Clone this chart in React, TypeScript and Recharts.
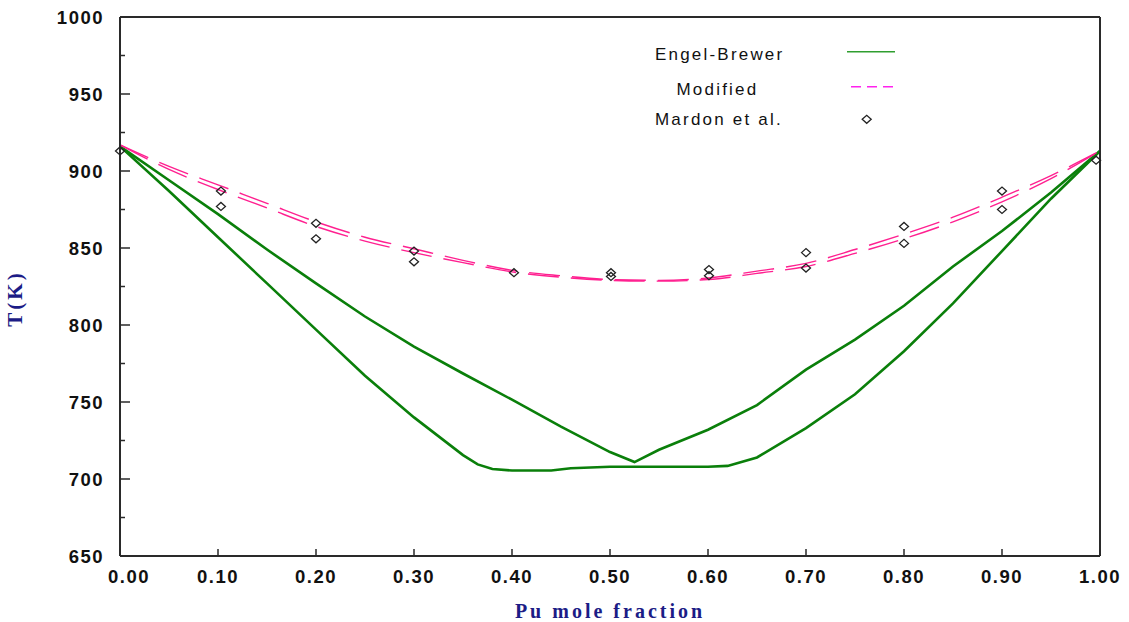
import React from 'react'
import { ComposedChart, Line, Scatter, XAxis, YAxis, ReferenceLine, Legend } from 'recharts'

// ── Axis ticks ────────────────────────────────────────
const xTicks = [0, 0.1, 0.2, 0.3, 0.4, 0.5, 0.6, 0.7, 0.8, 0.9, 1.0]
const yTicks = [650, 675, 700, 725, 750, 775, 800, 825, 850, 875, 900, 925, 950, 975, 1000]

// ── Engel-Brewer liquidus / solidus ───────────────────
const ebUpperX = [0, 0.05, 0.1, 0.15, 0.2, 0.25, 0.3, 0.35, 0.4, 0.45, 0.5, 0.525, 0.55, 0.6, 0.65, 0.7, 0.75, 0.8, 0.85, 0.9, 0.95, 1.0]
const ebUpperT = [916, 894, 872, 849, 827, 805.5, 786, 768.5, 751.5, 734, 717.5, 711, 719, 732, 748, 771, 790.5, 812.5, 838, 861, 886, 913]

const ebLowerX = [0, 0.05, 0.1, 0.15, 0.2, 0.25, 0.3, 0.35, 0.365, 0.38, 0.4, 0.44, 0.46, 0.5, 0.55, 0.6, 0.62, 0.65, 0.7, 0.75, 0.8, 0.85, 0.9, 0.95, 1.0]
const ebLowerT = [916, 887, 857, 827, 797, 767, 740, 715.5, 709.5, 706.5, 705.5, 705.5, 707, 708, 708, 708, 708.5, 714, 733, 755, 783, 814, 848, 882, 913]

// ── Modified model (two close curves) ─────────────────
const modX = [0, 0.05, 0.1, 0.15, 0.2, 0.25, 0.3, 0.35, 0.4, 0.45, 0.5, 0.55, 0.6, 0.65, 0.7, 0.75, 0.8, 0.85, 0.9, 0.95, 1.0]
const modUpperT = [917, 903, 891, 879, 867, 857, 849.5, 842, 835.5, 832, 829.5, 829, 830.5, 835, 840, 849, 859, 870, 883, 897, 913]
const modLowerT = [917, 901, 888, 876, 864, 854.5, 847, 840.5, 834.5, 831, 829, 828.5, 829.5, 833.5, 838, 846.5, 856, 867, 880, 895, 913]

// ── Mardon et al. measurements ────────────────────────
const mardonX = [0, 0.103, 0.103, 0.2, 0.2, 0.3, 0.3, 0.402, 0.501, 0.501, 0.601, 0.601, 0.7, 0.7, 0.8, 0.8, 0.9, 0.9, 0.996]
const mardonT = [913, 887, 877, 866, 856, 848, 841, 834, 834, 831.5, 836, 832, 847, 837, 864, 853, 887, 875, 907]

const toRows = (xs: number[], ts: number[]) => xs.map((p, i) => ({ p, t: ts[i] }))

const ebUpper = toRows(ebUpperX, ebUpperT)
const ebLower = toRows(ebLowerX, ebLowerT)
const modUpper = toRows(modX, modUpperT)
const modLower = toRows(modX, modLowerT)
const mardon = toRows(mardonX, mardonT)

const GREEN = '#0a7f0a'
const PINK = '#ff2090'
const AXIS = '#2a2a2a'
const NAVY = '#1c1c86'

const tickFont = {
  fontFamily: '"Liberation Sans", Arial, sans-serif',
  fontWeight: 700,
  fontSize: 18.5,
  letterSpacing: 1.5,
  fill: '#111',
}

const LeftTick = ({ x, y, payload }: any) => {
  const major = payload.value % 50 === 0
  return (
    <g>
      <line x1={x} x2={x + (major ? 10 : 5)} y1={y} y2={y} stroke={AXIS} strokeWidth={1.5} />
      {major && (
        <text x={x - 16} y={y + 6.5} textAnchor="end" {...tickFont}>{payload.value}</text>
      )}
    </g>
  )
}

const RightTick = ({ x, y, payload }: any) => {
  const major = payload.value % 50 === 0
  return <line x1={x} x2={x - (major ? 10 : 6)} y1={y} y2={y} stroke={AXIS} strokeWidth={1.5} />
}

const BottomTick = ({ x, y, payload }: any) => {
  const v = payload.value
  return (
    <g>
      <line x1={x} x2={x} y1={y} y2={y - 7} stroke={AXIS} strokeWidth={1.5} />
      <text x={x + (v === 0 ? 9 : 0)} y={y + 26.5} textAnchor="middle" {...tickFont}>{v.toFixed(2)}</text>
    </g>
  )
}

const Diamond = ({ cx, cy }: any) => (
  <path d={`M${cx - 4.5},${cy} L${cx},${cy - 4} L${cx + 4.5},${cy} L${cx},${cy + 4} Z`}
    fill="none" stroke="#222" strokeWidth={1.3} />
)

const legendFont = {
  fontFamily: '"Liberation Sans", Arial, sans-serif',
  fontSize: 17,
  letterSpacing: 2.2,
  fill: '#111',
}

const ChartLegend = () => (
  <svg width={280} height={100} style={{ display: 'block' }}>
    <text x={15} y={25} {...legendFont}>Engel-Brewer</text>
    <line x1={207} x2={255} y1={16.7} y2={16.7} stroke="#2f9e2f" strokeWidth={1.5} />
    <text x={36.5} y={60} {...legendFont}>Modified</text>
    <line x1={211} x2={255} y1={51.7} y2={51.7} stroke="#ff22ee" strokeWidth={1.5} strokeDasharray="10 6" />
    <text x={15} y={89.5} {...legendFont}>Mardon et al.</text>
    <Diamond cx={226.7} cy={84.3} />
  </svg>
)

export default function App() {
  return (
    <div style={{ background: '#fff' }}>
      <style>{'body{margin:0;background:#fff}'}</style>
      <ComposedChart width={1129} height={622} margin={{ top: 17, right: 19, left: 0, bottom: 0 }}>
        <XAxis type="number" dataKey="p" domain={[0, 1]} ticks={xTicks} interval={0}
          height={66} tickSize={0} tickMargin={0} tickLine={false} tick={<BottomTick />}
          axisLine={{ stroke: AXIS, strokeWidth: 2 }}
          label={{
            value: 'Pu mole fraction', position: 'insideBottom', offset: 4,
            style: { fontFamily: '"Liberation Serif", "Times New Roman", serif', fontWeight: 700, fontSize: 20, letterSpacing: 3, fill: NAVY },
          }} />
        <YAxis type="number" dataKey="t" domain={[650, 1000]} ticks={yTicks} interval={0}
          width={120} tickSize={0} tickMargin={0} tickLine={false} tick={<LeftTick />}
          axisLine={{ stroke: AXIS, strokeWidth: 2 }}
          label={{
            value: 'T(K)', angle: -90, position: 'insideLeft', offset: 15, dy: 12,
            style: { fontFamily: '"Liberation Serif", "Times New Roman", serif', fontWeight: 700, fontSize: 21, letterSpacing: 3, fill: NAVY, textAnchor: 'middle' },
          }} />
        <YAxis yAxisId="right" orientation="right" type="number" domain={[650, 1000]} ticks={yTicks}
          interval={0} width={10} tickSize={0} tickMargin={0} tickLine={false} tick={<RightTick />}
          axisLine={{ stroke: AXIS, strokeWidth: 2 }} />
        <ReferenceLine y={1000} stroke={AXIS} strokeWidth={2} />

        <Line data={ebUpper} dataKey="t" type="linear" stroke={GREEN} strokeWidth={2.6}
          dot={false} isAnimationActive={false} />
        <Line data={ebLower} dataKey="t" type="linear" stroke={GREEN} strokeWidth={2.6}
          dot={false} isAnimationActive={false} />
        <Line data={modUpper} dataKey="t" type="monotone" stroke={PINK} strokeWidth={1.4}
          strokeDasharray="31 12" dot={false} isAnimationActive={false} />
        <Line data={modLower} dataKey="t" type="monotone" stroke={PINK} strokeWidth={1.4}
          strokeDasharray="31 12" dot={false} isAnimationActive={false} />
        <Scatter data={mardon} dataKey="t" shape={<Diamond />} isAnimationActive={false} />

        <Legend layout="horizontal" verticalAlign="middle" align="center"
          content={<ChartLegend />}
          wrapperStyle={{ top: 35, left: 640, width: 280, height: 100 }} />
      </ComposedChart>
    </div>
  )
}
